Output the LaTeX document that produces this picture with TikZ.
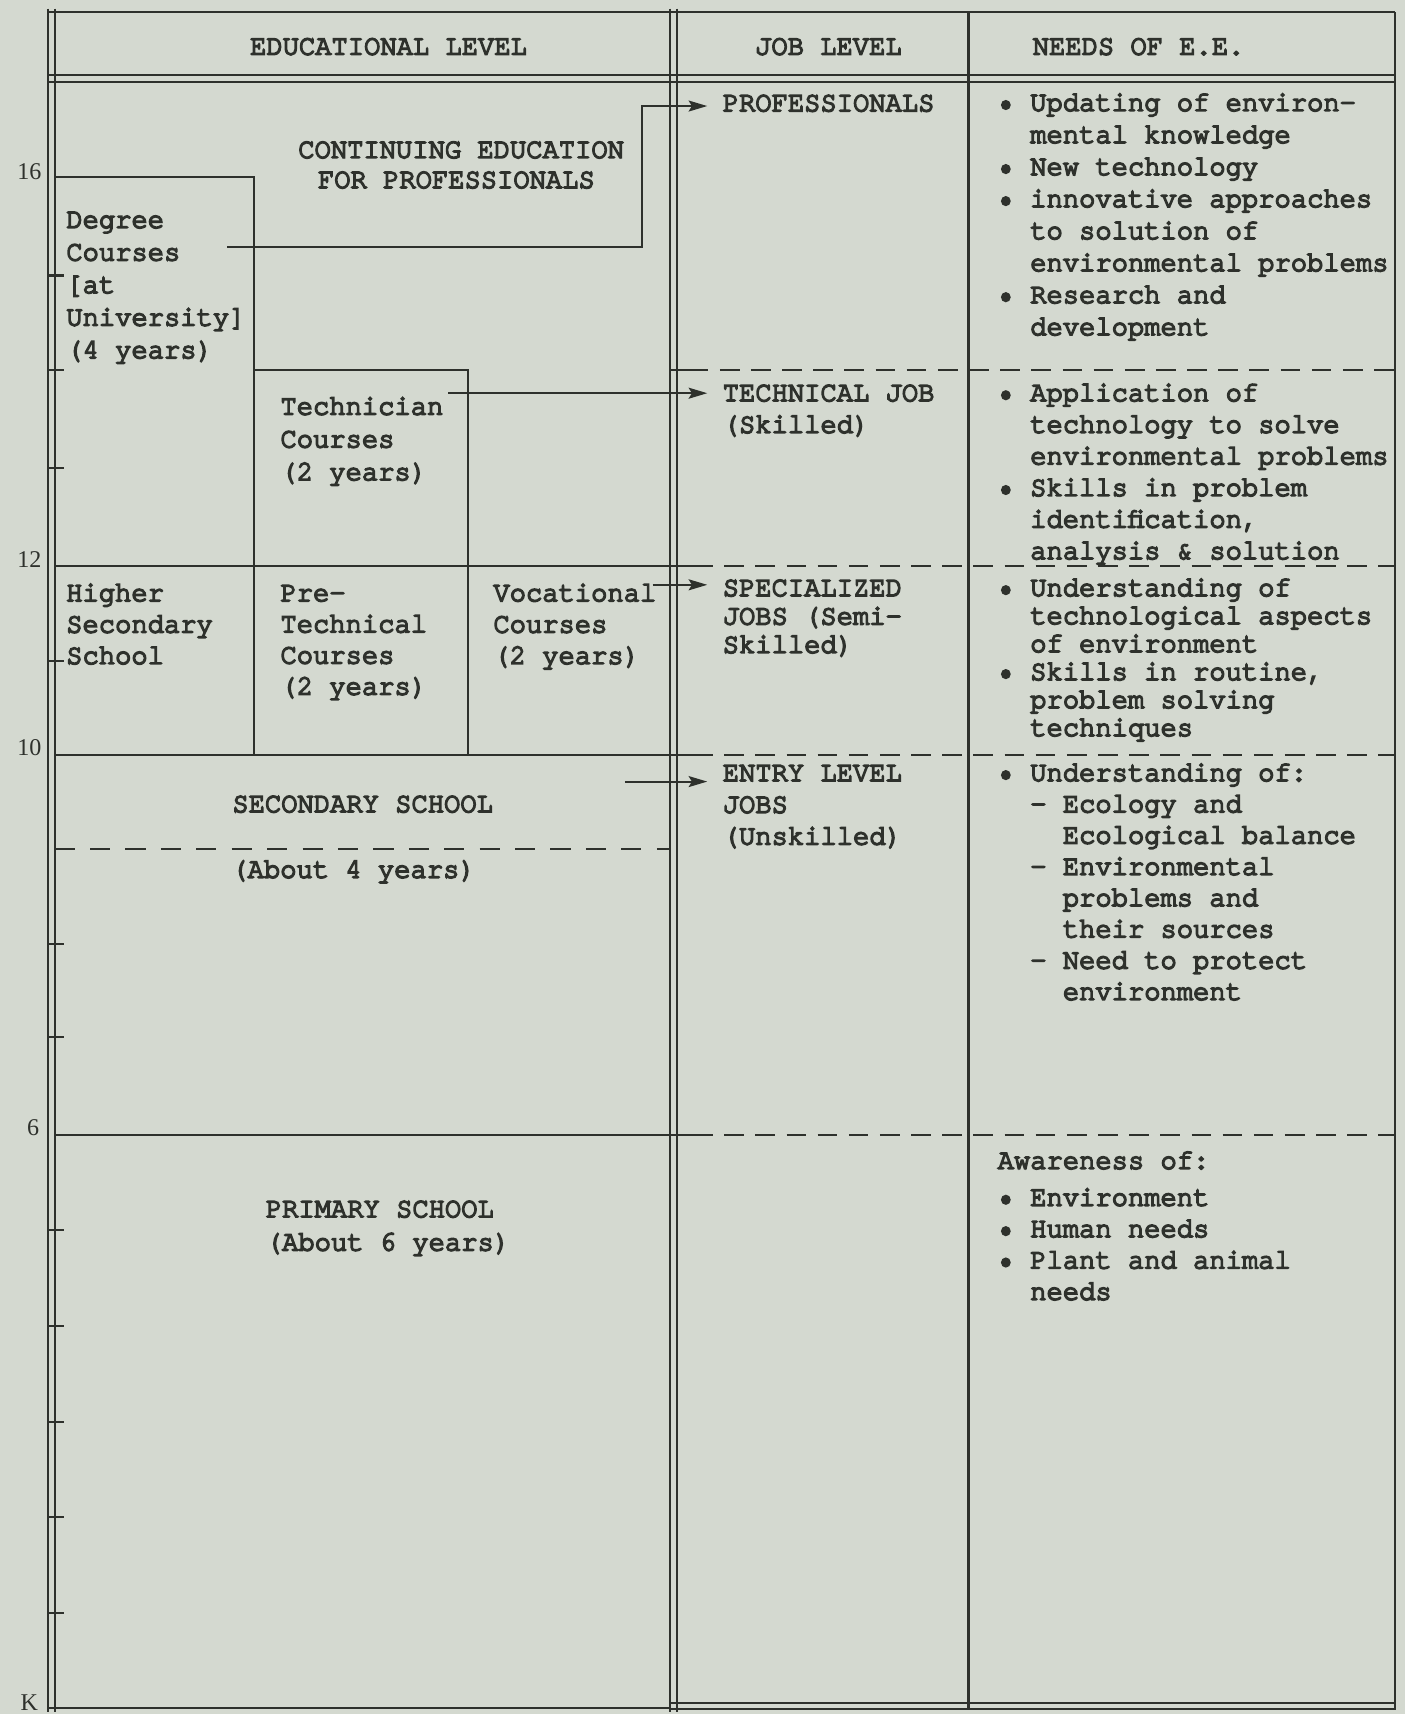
\documentclass[tikz,border=0pt]{standalone}
\usepackage{fontspec}
\usetikzlibrary{arrows.meta}
\newfontfamily\tw[FakeBold=5.5,FakeStretch=0.955]{TeX Gyre Cursor}
\newfontfamily\axisfont{Liberation Serif}
\definecolor{paper}{RGB}{212,217,208}
\definecolor{ink}{RGB}{46,49,44}
% indentation by two / four character cells of the monospaced face
\newcommand\ic{\hspace*{29.8pt}}
\newcommand\iic{\hspace*{59.6pt}}
\tikzset{
  tt/.style={font=\tw\fontsize{26}{29}\selectfont, inner sep=0pt, anchor=base west, text=ink},
  rule/.style={draw=ink, line width=1.9pt},
  dashrule/.style={rule, dash pattern=on 18pt off 10.5pt},
  dashrulewide/.style={rule, dash pattern=on 18.4pt off 14pt},
  arr/.style={rule, -{Stealth[length=17pt,width=10pt,inset=3pt]}, shorten >=14pt},
  yr/.style={font=\axisfont\fontsize{22}{22}\selectfont, inner sep=0pt, anchor=base east, text=ink},
}
% a block of lines: name prefix, x, first baseline, line spacing, lines
\newcommand\txtblock[5]{\foreach \tx [count=\k from 0] in {#5} {\node[tt] (#1-\k) at (#2, #3+\k*#4) {\tx};}}

\begin{document}
\begin{tikzpicture}[x=1pt,y=-1pt]
\fill[paper] (0,0) rectangle (1285,1568);
\useasboundingbox (0,0) rectangle (1285,1568);

% ---- frame of the table ----
\draw[rule] (44,11) -- (1276,11);
\draw[rule] (44,68.5) -- (1276,68.5);
\draw[rule] (44,75) -- (1276,75);
\draw[rule] (44,8) -- (44,1566);
\draw[rule] (50,8) -- (50,1566);
\draw[rule] (613,8) -- (613,1566);
\draw[rule] (619.5,8) -- (619.5,1566);
\draw[rule] (886,11) -- (886,1564);
\draw[rule] (1276,11) -- (1276,1564);
\draw[rule] (44,1562.5) -- (613,1562.5);
\draw[rule] (613,1557.5) -- (1276,1557.5);
\draw[rule] (613,1563.5) -- (1276,1563.5);

% ---- year scale ----
\foreach \yy in {252,338.5,428,605,864,949,1125.5,1213,1300.5,1388,1476}
  \draw[rule] (44,\yy) -- (59,\yy);
\node[yr] (y16) at (38,164) {16};
\node[yr] (y12) at (38,519) {12};
\node[yr] (y10) at (38,691) {10};
\node[yr] (y6) at (36,1039) {6};
\node[yr] (yK) at (35,1565) {K};

% ---- course boxes ----
\draw[rule] (50,162) -- (232.7,162) -- (232.7,690.5);
\draw[rule] (232.7,338.5) -- (428,338.5) -- (428,690.5);
\draw[rule] (50,517.6) -- (634,517.6);
\draw[rule] (50,690.5) -- (634,690.5);
\draw[rule] (50,1038) -- (634,1038);
\draw[rule] (613,338.5) -- (630,338.5);
\draw[dashrulewide] (50,776.5) -- (613,776.5);

% ---- level boundaries across job and needs columns ----
\foreach \yy/\xs in {338.5/630,517.6/634,690.5/634,1038/634}
  \draw[dashrule] (\xs,\yy) -- (1276,\yy);

% ---- headings ----
\node[tt] (hEdu) at (228.6,50) {EDUCATIONAL LEVEL};
\node[tt] (hJob) at (690.6,50) {JOB LEVEL};
\node[tt] (hNeed) at (944.6,50) {NEEDS OF E.E.};

% ---- educational level ----
\node[tt] (cont-0) at (272.7,144.5) {CONTINUING EDUCATION};
\node[tt] (cont-1) at (290.7,172) {FOR PROFESSIONALS};
\txtblock{deg}{60.5}{208.5}{29.8}{Degree,Courses,[at,University],(4 years)}
\txtblock{tech}{256.4}{379.3}{30}{Technician,Courses,(2 years)}
\txtblock{hss}{60.4}{550}{28.7}{Higher,Secondary,School}
\txtblock{pre}{256.4}{550}{28.5}{Pre-,Technical,Courses,(2 years)}
\txtblock{voc}{451.2}{550}{28.7}{Vocational,Courses,(2 years)}
\node[tt] (sec) at (212.4,743) {SECONDARY SCHOOL};
\node[tt] (secyrs) at (211.5,803) {(About 4 years)};
\txtblock{prim}{243}{1113.5}{30.5}{PRIMARY SCHOOL,(About 6 years)}

% ---- job level ----
\txtblock{jp}{661}{101.8}{29}{PROFESSIONALS}
\txtblock{jt}{661}{367}{29}{TECHNICAL JOB,(Skilled)}
\txtblock{js}{661}{545.3}{26}{SPECIALIZED,JOBS (Semi-,Skilled)}
\txtblock{je}{661}{714.6}{29}{ENTRY LEVEL,JOBS,(Unskilled)}

% ---- needs of E.E. ----
\txtblock{np}{912.5}{101.5}{29.3}{• Updating of environ-,\ic mental knowledge,• New technology,• innovative approaches,\ic to solution of,\ic environmental problems,• Research and,\ic development}
\txtblock{nt}{912.5}{367}{28.9}{• Application of,\ic technology to solve,\ic environmental problems,• Skills in problem,{\ic identification,},\ic analysis \& solution}
\txtblock{ns}{912.5}{545.3}{25.6}{• Understanding of,\ic technological aspects,\ic of environment,{• Skills in routine,},\ic problem solving,\ic techniques}
\txtblock{ne}{912.5}{714.5}{28.6}{• Understanding of:,\ic - Ecology and,\iic Ecological balance,\ic - Environmental,\iic problems and,\iic their sources,\ic - Need to protect,\iic environment}
\node[tt] (aw) at (912.5,1069.3) {Awareness of:};
\txtblock{na}{912.5}{1103}{28.7}{• Environment,• Human needs,• Plant and animal,\ic needs}

% ---- routes from courses to jobs ----
\coordinate (dStart) at (208,225.6);
\coordinate (dBend) at (587.5,97);
\coordinate (tStart) at (410,359.7);
\coordinate (vStart) at (597,535);
\coordinate (sStart) at (571.6,715);
\draw[arr] (dStart) -| (dBend) -- (dBend -| jp-0.west);
\draw[arr] (tStart) -- (tStart -| jt-0.west);
\draw[arr] (vStart) -- (vStart -| js-0.west);
\draw[arr] (sStart) -- (sStart -| je-0.west);
\end{tikzpicture}
\end{document}
